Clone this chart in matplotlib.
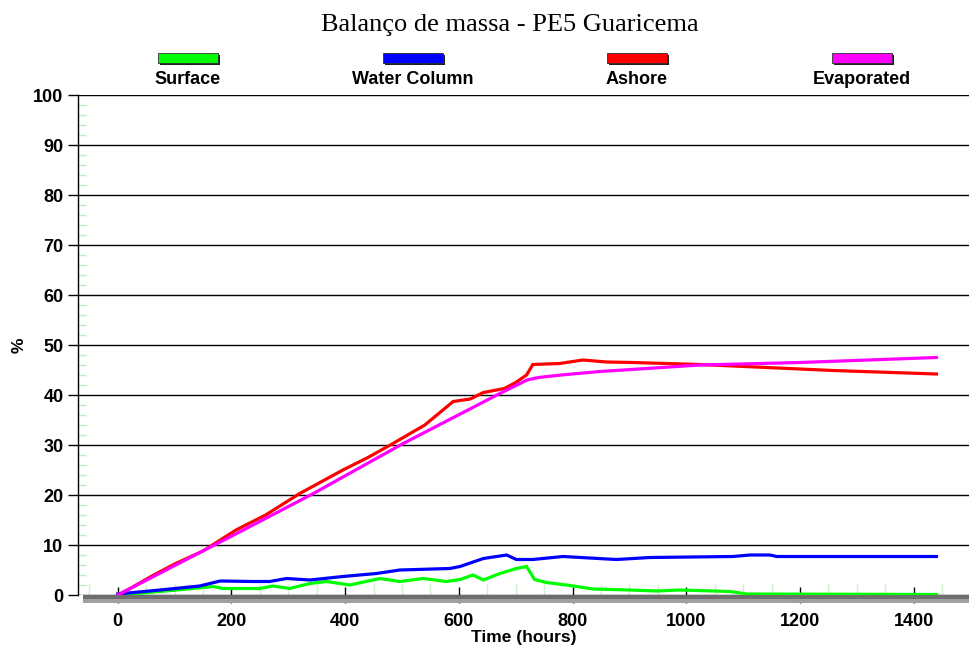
import matplotlib
matplotlib.use('Agg')
import matplotlib.pyplot as plt
from matplotlib.patches import Rectangle
from matplotlib.ticker import MultipleLocator

plt.rcParams['font.family'] = ['Liberation Sans', 'DejaVu Sans']

# mass balance series (percent of spilled volume vs hours)
surface_t = [0, 74, 132, 168, 185, 250, 273, 302, 338, 367, 408, 461, 496, 537, 578, 602, 625,
             643, 672, 701, 719, 733, 754, 789, 836, 900, 948, 989, 1077, 1106, 1440]
surface = [0, 0.7, 1.3, 1.7, 1.3, 1.3, 1.8, 1.3, 2.3, 2.7, 2.0, 3.3, 2.7, 3.3, 2.7, 3.1, 4.0,
           3.0, 4.3, 5.3, 5.7, 3.1, 2.5, 2.0, 1.2, 1.0, 0.8, 1.0, 0.7, 0.2, 0.1]

water_t = [0, 74, 144, 180, 238, 267, 297, 338, 396, 455, 496, 584, 602, 643, 684, 701, 730,
           783, 877, 936, 1082, 1112, 1147, 1159, 1440]
water = [0.2, 1.0, 1.8, 2.8, 2.7, 2.7, 3.3, 3.0, 3.7, 4.3, 5.0, 5.3, 5.7, 7.3, 8.0, 7.1, 7.1,
         7.7, 7.1, 7.5, 7.7, 8.0, 8.0, 7.7, 7.7]

ashore_t = [0, 20, 60, 100, 150, 208, 260, 320, 396, 440, 484, 540, 590, 620, 643, 680, 700,
            719, 730, 777, 818, 860, 906, 1024, 1141, 1258, 1440]
ashore = [0, 1.2, 3.8, 6.2, 8.8, 13.0, 16.0, 20.3, 25.0, 27.5, 30.3, 34.0, 38.7, 39.2, 40.5,
          41.3, 42.5, 44.0, 46.1, 46.3, 47.0, 46.6, 46.5, 46.1, 45.5, 44.9, 44.2]

evap_t = [0, 226, 344, 502, 672, 720, 740, 780, 848, 930, 1024, 1200, 1320, 1440]
evap = [0, 13.3, 20.3, 30.3, 40.3, 43.0, 43.5, 44.0, 44.7, 45.3, 46.0, 46.5, 47.0, 47.5]

names = ['Surface', 'Water Column', 'Ashore', 'Evaporated']
colors = ['#00ff00', '#0000ff', '#ff0000', '#ff00ff']
series = [(surface_t, surface), (water_t, water), (ashore_t, ashore), (evap_t, evap)]

fig = plt.figure(figsize=(9.7, 6.5), dpi=100)
ax = fig.add_axes([78 / 970, 55 / 650, 1 - 78 / 970, 500 / 650])

for (t, v), c in zip(series, colors):
    ax.plot(t, v, color=c, lw=2.3, zorder=3, solid_joinstyle='miter')

ax.set_xlim(-70, 1499)
ax.set_ylim(0, 100)

ax.xaxis.set_major_locator(MultipleLocator(200))
ax.xaxis.set_minor_locator(MultipleLocator(50))
ax.yaxis.set_major_locator(MultipleLocator(10))
ax.yaxis.set_minor_locator(MultipleLocator(2))

ax.grid(axis='y', which='major', color='black', lw=1.0)
ax.set_axisbelow(True)

for s in ['top', 'right', 'bottom']:
    ax.spines[s].set_visible(False)
ax.spines['left'].set_linewidth(1.0)

ax.tick_params(axis='x', which='major', direction='inout', length=12, width=1.0,
               color='black', pad=7, labelsize=13)
ax.tick_params(axis='x', which='minor', direction='in', length=8, width=1.0,
               color='#d0f0d0')
ax.tick_params(axis='y', which='major', direction='out', length=7, width=1.0,
               labelsize=13)
ax.tick_params(axis='y', which='minor', direction='in', length=6, width=1.0,
               color='#c0eac0')
for lab in ax.get_xticklabels() + ax.get_yticklabels():
    lab.set_fontweight('bold')

# grey floor under the zero line
ax.add_patch(Rectangle((0.006, -0.008), 0.994, 0.008, transform=ax.transAxes,
                       facecolor='#6e6e6e', edgecolor='none', clip_on=False, zorder=1))
ax.add_patch(Rectangle((0.006, -0.015), 0.994, 0.007, transform=ax.transAxes,
                       facecolor='#a0a0a0', edgecolor='none', clip_on=False, zorder=1))

ax.set_xlabel('Time (hours)', fontsize=12.5, fontweight='bold', labelpad=0)
ax.set_ylabel('%', fontsize=12.5, fontweight='bold', labelpad=5)

fig.text(510 / 970, 1 - 25 / 650, 'Balanço de massa - PE5 Guaricema',
         family='Liberation Serif', fontsize=19, ha='center', va='center')

# legend: bevelled swatches above the labels
centers = [188, 413, 637, 862]
for x, name, c in zip(centers, names, colors):
    w, h = 60 / 970, 10 / 650
    x0 = x / 970 - w / 2
    y0 = 1 - 63 / 650
    fig.patches.append(Rectangle((x0 + 2 / 970, y0 - 2 / 650), w, h, transform=fig.transFigure,
                                 facecolor='#202020', edgecolor='none'))
    fig.patches.append(Rectangle((x0, y0), w, h, transform=fig.transFigure,
                                 facecolor=c, edgecolor='#303030', lw=0.6))
    fig.text(x / 970, 1 - 80 / 650, name, fontsize=13, fontweight='bold',
             ha='center', va='center')

fig.savefig('out.png', dpi=100)
